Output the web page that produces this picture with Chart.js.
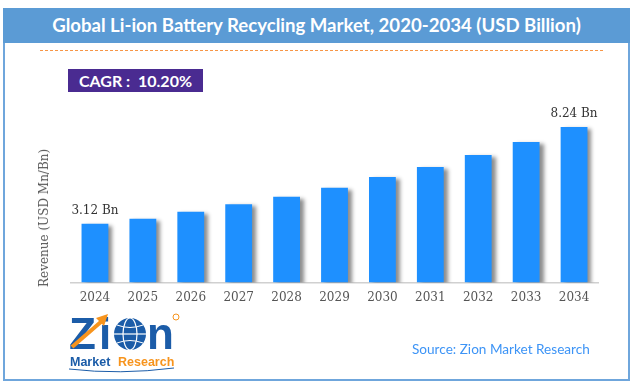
<!DOCTYPE html>
<html>
<head>
<meta charset="utf-8">
<script src="https://cdn.jsdelivr.net/npm/chart.js@4.4.1/dist/chart.umd.min.js"></script>
<style>
  body { margin: 0; width: 633px; height: 383px; overflow: hidden; background: #fff; position: relative; }
  .frame { position: absolute; left: 3px; top: 8px; width: 627px; height: 373px; border: 2px solid #6fa6dc; box-sizing: border-box; }
  .header { position: absolute; left: 3px; top: 8px; width: 627px; height: 35px; background: #5b9bd5; color: #fff;
            font: bold 18.6px "Lato", sans-serif; text-align: center; line-height: 35px; white-space: nowrap; }
  .dash { position: absolute; left: 40px; top: 50px; width: 563px; border-top: 1.5px dashed #f79646; }
  .cagr { position: absolute; left: 68px; top: 69px; width: 135px; height: 23px; background: #4a2b91; color: #fff;
          font: bold 16px "Lato", sans-serif; text-align: center; line-height: 23px; }
  .ytitle { position: absolute; left: 44px; top: 218px; transform: translate(-50%, -50%) rotate(-90deg);
            font: 12px "DejaVu Serif", serif; color: #555; white-space: nowrap; }
  .source { position: absolute; left: 412px; top: 341px; font: 13.6px "Lato", sans-serif; color: #3d94f6; white-space: nowrap; }
  .logo { position: absolute; left: 60px; top: 305px; }
  .chartbox { position: absolute; left: 0; top: 0; width: 633px; height: 383px; }
</style>
</head>
<body>
<div class="frame"></div>
<div class="header">Global Li-ion Battery Recycling Market, 2020-2034 (USD Billion)</div>
<div class="dash"></div>
<div class="cagr">CAGR :&nbsp; 10.20%</div>
<div class="chartbox"><canvas id="barChart"></canvas></div>
<div class="ytitle">Revenue (USD Mn/Bn)</div>
<div class="source">Source: Zion Market Research</div>
<svg class="logo" width="130" height="75" viewBox="0 0 130 75">
  <text x="9" y="44" font-family="Liberation Sans" font-weight="bold" font-size="44" fill="#1b5ca8">Z</text>
  <text x="39" y="44" font-family="Liberation Sans" font-weight="bold" font-size="44" fill="#1b5ca8">i</text>
  <circle cx="70" cy="29" r="16" fill="#1b5ca8"/>
  <ellipse cx="70" cy="29" rx="7" ry="16" fill="none" stroke="#fff" stroke-width="1.2"/>
  <line x1="54" y1="29" x2="86" y2="29" stroke="#fff" stroke-width="1.2"/>
  <path d="M57 20 Q70 25 83 20 M57 38 Q70 33 83 38" fill="none" stroke="#fff" stroke-width="1"/>
  <text x="87" y="44" font-family="Liberation Sans" font-weight="bold" font-size="44" fill="#1b5ca8">n</text>
  <path d="M12 42 L42 16" stroke="#f7941d" stroke-width="4"/>
  <path d="M36 13 L48 9 L44 21 Z" fill="#f7941d"/>
  <circle cx="116" cy="12" r="3" fill="none" stroke="#f7941d" stroke-width="1"/>
  <text x="10" y="61" font-family="Liberation Sans" font-weight="bold" font-size="12.5" fill="#1b5ca8">Market</text>
  <text x="58" y="61" font-family="Liberation Sans" font-weight="bold" font-size="12.5" fill="#f7941d">Research</text>
  <path d="M9 64 Q60 70 114 63" fill="none" stroke="#1b5ca8" stroke-width="1"/>
</svg>
<script>
// ==== DATA ====
const years = ["2024", "2025", "2026", "2027", "2028", "2029", "2030", "2031", "2032", "2033", "2034"];
const revenue = [3.12, 3.38, 3.75, 4.15, 4.55, 5.03, 5.59, 6.12, 6.76, 7.45, 8.24];
const labeledBars = [0, 10];

// bar shadow
const shadowPlugin = {
  id: "barShadow",
  beforeDatasetDraw(chart) {
    const ctx = chart.ctx;
    ctx.save();
    ctx.shadowColor = "rgba(0,0,0,0.45)";
    ctx.shadowBlur = 4;
    ctx.shadowOffsetX = 4;
    ctx.shadowOffsetY = 2;
  },
  afterDatasetDraw(chart) {
    chart.ctx.restore();
  }
};

// value labels on first and last bar
const valueLabels = {
  id: "valueLabels",
  afterDatasetsDraw(chart) {
    const ctx = chart.ctx;
    const meta = chart.getDatasetMeta(0);
    ctx.save();
    ctx.font = "12px 'DejaVu Serif'";
    ctx.fillStyle = "#333";
    ctx.textAlign = "center";
    ctx.textBaseline = "middle";
    labeledBars.forEach((i) => {
      const bar = meta.data[i];
      ctx.fillText(revenue[i].toFixed(2) + " Bn", bar.x, bar.y - 13);
    });
    ctx.restore();
  }
};

Chart.defaults.font.family = "'DejaVu Serif', serif";

new Chart(document.getElementById("barChart").getContext("2d"), {
  type: "bar",
  data: {
    labels: years,
    datasets: [
      {
        data: revenue,
        backgroundColor: "#1e90ff",
        borderWidth: 0,
        barPercentage: 0.56,
        categoryPercentage: 1
      }
    ]
  },
  options: {
    responsive: true,
    maintainAspectRatio: false,
    animation: false,
    layout: { padding: { left: 71, right: 35, top: 112.75, bottom: 70 } },
    plugins: {
      legend: { display: false },
      tooltip: { enabled: false }
    },
    scales: {
      x: {
        grid: { display: false, drawTicks: false },
        border: { color: "#d0d0d0", width: 1.5 },
        ticks: { color: "#555", font: { size: 12 }, padding: 8 }
      },
      y: {
        display: false,
        min: 0,
        max: 9
      }
    }
  },
  plugins: [shadowPlugin, valueLabels]
});
</script>
</body>
</html>
